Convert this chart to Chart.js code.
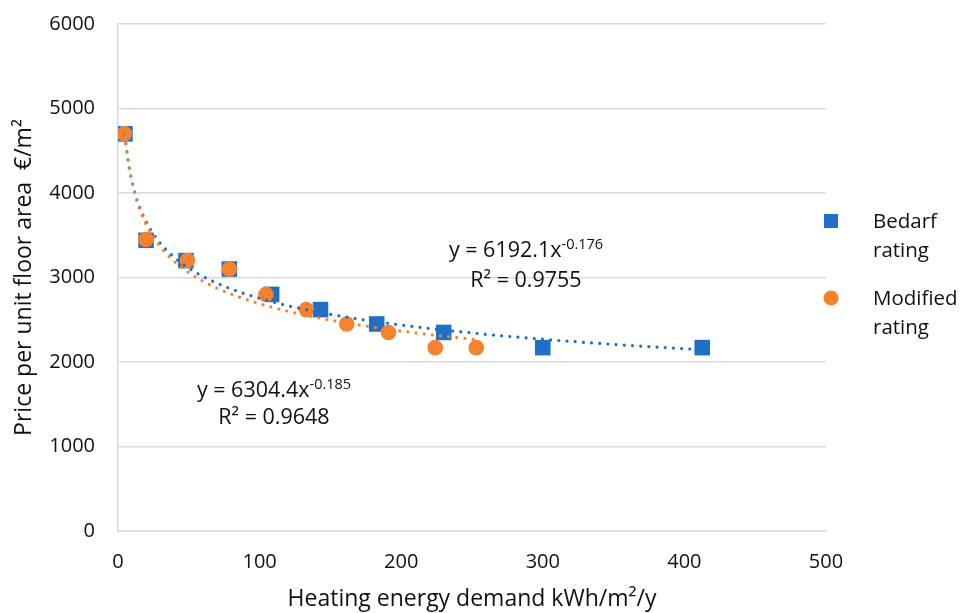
<!DOCTYPE html>
<html><head><meta charset="utf-8">
<script src="https://cdn.jsdelivr.net/npm/chart.js@4.4.1/dist/chart.umd.min.js"></script>
<style>html,body{margin:0;padding:0;background:#fff}#c{display:block}</style>
</head><body>
<canvas id="c" width="962" height="613"></canvas>
<script>
// ---- data ----
const seriesNames = [['Bedarf', 'rating'], ['Modified', 'rating']];
const bedarfX = [4.9, 19.8, 48, 78.6, 108.5, 143, 182.7, 230, 300, 412.6];
const bedarfY = [4700, 3440, 3200, 3100, 2800, 2620, 2450, 2350, 2170, 2170];
const modifiedX = [4.5, 19.8, 49, 78.6, 104.5, 133, 161.5, 191, 224, 253];
const modifiedY = [4700, 3450, 3200, 3100, 2800, 2620, 2450, 2350, 2170, 2170];
// power trendlines as printed on the chart: y = a * x^b
const trendCoef = [6192.1, 6304.4];
const trendExp = [-0.176, -0.185];
const trendR2 = ['0.9755', '0.9648'];
const xTicks = [0, 100, 200, 300, 400, 500];
const yTicks = [0, 1000, 2000, 3000, 4000, 5000, 6000];
const xTitle = 'Heating energy demand kWh/m\u00B2/y';
const yTitle = 'Price per unit floor area  \u20AC/m\u00B2';

const BLUE = '#1F6FC6';
const ORANGE = '#F8812E';
const GRID = '#D9D9D9';
const TXT = '#111111';
const FONT = '"Open Sans"';
const FS = 20;

function trendPoints(xs, a, b) {
  const lo = Math.min(...xs), hi = Math.max(...xs);
  const pts = [];
  const N = 160;
  for (let i = 0; i <= N; i++) {
    const x = lo * Math.pow(hi / lo, i / N);
    pts.push({x: x, y: a * Math.pow(x, b)});
  }
  return pts;
}
const toPts = (xs, ys) => xs.map((x, i) => ({x: x, y: ys[i]}));

const annotate = {
  id: 'annotate',
  afterDraw(chart) {
    const ctx = chart.ctx;
    const ca = chart.chartArea;
    ctx.save();
    ctx.fillStyle = TXT;
    ctx.textBaseline = 'alphabetic';
    const eqs = [
      {cx: 526, b1: 257, b2: 287, i: 0},
      {cx: 274, b1: 397, b2: 424, i: 1}
    ];
    const EF = '21.5px ' + FONT, SF = '14.5px ' + FONT;
    eqs.forEach(e => {
      const main = 'y = ' + trendCoef[e.i].toFixed(1) + 'x';
      const sup = String(trendExp[e.i]);
      ctx.font = EF;
      const wm = ctx.measureText(main).width;
      ctx.font = SF;
      const ws = ctx.measureText(sup).width;
      const x0 = e.cx - (wm + ws) / 2;
      ctx.font = EF;
      ctx.textAlign = 'left';
      ctx.fillText(main, x0, e.b1);
      ctx.font = SF;
      ctx.fillText(sup, x0 + wm, e.b1 - 8);
      ctx.font = EF;
      ctx.textAlign = 'center';
      ctx.fillText('R\u00B2 = ' + trendR2[e.i], e.cx, e.b2);
    });
    // legend
    const lx = ca.right + 5;
    const items = [
      {y: 221, color: BLUE, shape: 'rect'},
      {y: 298, color: ORANGE, shape: 'circle'}
    ];
    items.forEach((it, k) => {
      ctx.fillStyle = it.color;
      if (it.shape === 'rect') {
        ctx.fillRect(lx - 7, it.y - 7, 14, 14);
      } else {
        ctx.beginPath();
        ctx.arc(lx, it.y, 7.5, 0, Math.PI * 2);
        ctx.fill();
      }
      ctx.fillStyle = TXT;
      ctx.font = '20.5px ' + FONT;
      ctx.textAlign = 'left';
      seriesNames[k].forEach((t, j) => {
        ctx.fillText(t, lx + 42, it.y + 7 + j * 29);
      });
    });
    ctx.restore();
  }
};

new Chart(document.getElementById('c'), {
  type: 'scatter',
  data: {
    datasets: [
      {
        label: seriesNames[0].join(' '),
        data: toPts(bedarfX, bedarfY),
        pointStyle: 'rect', pointRadius: 11, pointHoverRadius: 11,
        backgroundColor: BLUE, borderColor: BLUE, borderWidth: 0,
        order: 4
      },
      {
        label: seriesNames[1].join(' '),
        data: toPts(modifiedX, modifiedY),
        pointStyle: 'circle', pointRadius: 7.8, pointHoverRadius: 7.8,
        backgroundColor: ORANGE, borderColor: ORANGE, borderWidth: 0,
        order: 3
      },
      {
        label: 'Power (Bedarf rating)',
        data: trendPoints(bedarfX, trendCoef[0], trendExp[0]),
        showLine: true, pointRadius: 0, borderColor: BLUE, borderWidth: 3.2,
        borderDash: [0.001, 8.2], borderCapStyle: 'round', tension: 0, fill: false,
        order: 2
      },
      {
        label: 'Power (Modified rating)',
        data: trendPoints(modifiedX, trendCoef[1], trendExp[1]),
        showLine: true, pointRadius: 0, borderColor: ORANGE, borderWidth: 3.2,
        borderDash: [0.001, 8.2], borderCapStyle: 'round', tension: 0, fill: false,
        order: 1
      }
    ]
  },
  options: {
    responsive: false,
    animation: false,
    devicePixelRatio: 1,
    layout: {padding: {left: 0, right: 136, top: 24, bottom: 0}},
    plugins: {legend: {display: false}, tooltip: {enabled: false}},
    scales: {
      x: {
        type: 'linear', min: 0, max: 500,
        afterBuildTicks: s => { s.ticks = xTicks.map(v => ({value: v})); },
        afterFit: s => { s.height = 82; s.paddingLeft = 0; s.paddingRight = 0; },
        grid: {display: false, drawTicks: false},
        border: {display: true, color: GRID, width: 1.5},
        ticks: {padding: 19, color: TXT, font: {family: FONT, size: FS}, callback: v => String(v)},
        title: {display: true, text: xTitle, color: TXT, font: {family: FONT, size: 23}, padding: {top: 0, bottom: 0}}
      },
      y: {
        type: 'linear', min: 0, max: 6000,
        afterBuildTicks: s => { s.ticks = yTicks.map(v => ({value: v})); },
        afterFit: s => { s.width = 118; s.paddingTop = 0; s.paddingBottom = 0; },
        grid: {color: GRID, lineWidth: 1.5, drawTicks: false},
        border: {display: true, color: GRID, width: 1.5},
        ticks: {padding: 23, color: TXT, font: {family: FONT, size: FS}, callback: v => String(v)},
        title: {display: true, text: yTitle, color: TXT, font: {family: FONT, size: 23}, padding: {top: 11, bottom: 0}}
      }
    }
  },
  plugins: [annotate]
});
</script>
</body></html>
